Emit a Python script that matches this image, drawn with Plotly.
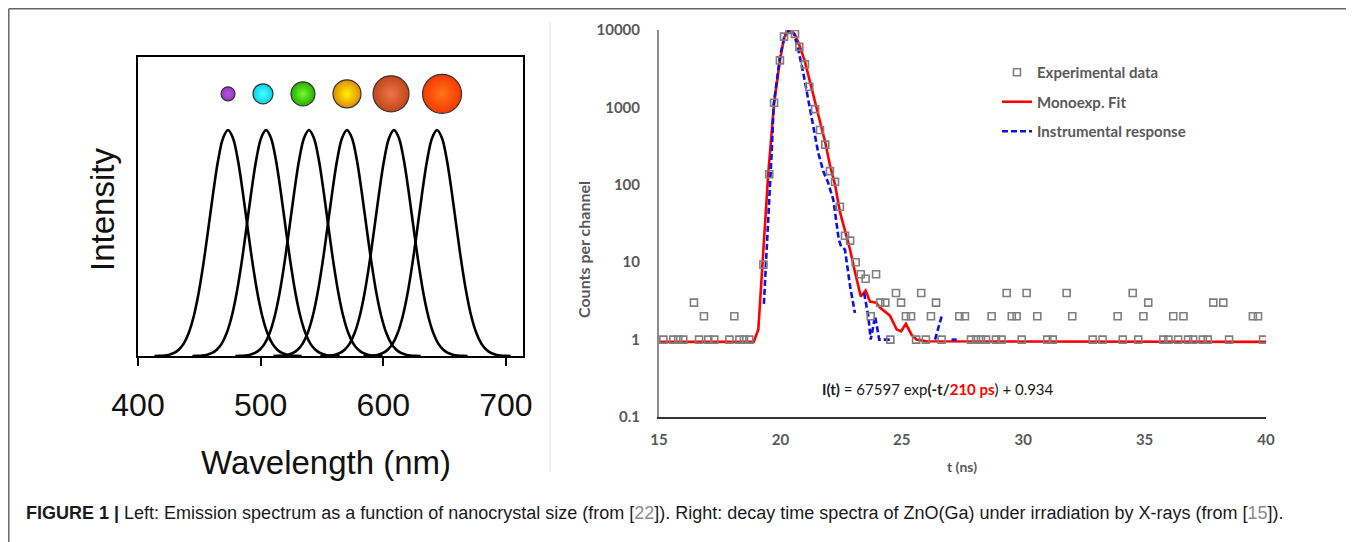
import plotly.graph_objects as go

W, H = 1354, 542
OFF = 8              # page body margin of the browser
FW, FH = W - OFF, H - OFF

# ---------------- Left panel data ----------------
peak_nm = [473.4, 504.4, 539.4, 570.4, 608.7, 643.8]
profile_offset = [-60, -56, -52, -48, -44, -40, -36, -32, -28, -24, -20, -16, -12, -8, -4, 0,
                  4, 8, 12, 16, 20, 24, 28, 32, 36, 40, 44, 48, 52, 56, 60]
profile_height = [0.0, 0.001, 0.0025, 0.006, 0.0135, 0.029, 0.056, 0.103, 0.175, 0.278, 0.411, 0.566, 0.726,
                  0.868, 0.965, 1.0,
                  0.965, 0.868, 0.726, 0.566, 0.411, 0.278, 0.175, 0.103, 0.056, 0.029, 0.0135, 0.006,
                  0.0025, 0.001, 0.0]
dot_nm = [473.4, 501.9, 534.5, 570.4, 606.3, 647.9]
dot_y = [1.16, 1.16, 1.16, 1.16, 1.16, 1.16]
dot_size = [14, 20, 24, 28, 36, 39]
dot_outer = ["#9636c4", "#00d6ea", "#26b000", "#e08a00", "#c24616", "#f83800"]
dot_inner = ["#b456e0", "#50fcff", "#78f830", "#fff400", "#ee7448", "#ff7418"]
left_ticks = [400, 500, 600, 700]

# ---------------- Right panel data ----------------
exp_t = [15.18, 15.59, 15.79, 16.0, 16.44, 16.65, 16.85, 17.03, 17.28, 17.9, 18.1, 18.31, 18.5, 18.72,
         19.3, 19.54, 19.74, 19.98, 20.15, 20.37, 20.6, 20.78, 21.01, 21.19, 21.43, 21.63, 21.85, 22.04,
         22.25, 22.45, 22.66, 22.87, 23.1, 23.31, 23.51, 23.72, 23.94, 24.11, 24.32, 24.53, 24.76, 24.97,
         25.17, 25.38, 25.59, 25.8, 25.99, 26.2, 26.41, 26.64,
         27.37, 27.6, 27.85, 28.06, 28.26, 28.47, 28.7, 28.88, 29.11, 29.32, 29.53, 29.73, 29.94, 30.14,
         30.58, 30.99, 31.22, 31.79, 32.02, 32.86, 33.27, 33.89, 34.1, 34.51, 34.74, 34.95, 35.15, 35.77,
         35.98, 36.18, 36.38, 36.6, 36.79, 37.0, 37.4, 37.6, 37.83, 38.24, 38.48, 39.46, 39.67, 39.88]
exp_v = [1, 1, 1, 1, 3, 1, 2, 1, 1, 1, 2, 1, 1, 1,
         9.3, 137, 1150, 4050, 8200, 10000, 8900, 6050, 3600, 1850, 950, 510, 330, 150,
         109, 52, 22, 19, 10, 7, 6.1, 2, 7, 3, 3, 1, 4, 3,
         2, 2, 1, 4, 1, 2, 3, 1,
         2, 2, 1, 1, 1, 1, 2, 1, 1, 4, 2, 2, 1, 4,
         2, 1, 1, 4, 2, 1, 1, 2, 1, 4, 1, 2, 3, 1,
         1, 2, 1, 2, 1, 1, 1, 1, 3, 3, 1, 2, 2, 1]

fit_t = [15.0, 18.9, 19.09, 19.3, 19.5, 19.74, 19.98, 20.15, 20.37, 20.6, 20.78, 21.01, 21.19, 21.43,
         21.63, 21.85, 22.04, 22.25, 22.45, 22.66, 22.87, 23.05, 23.2, 23.31, 23.51, 23.69, 23.95, 24.1,
         24.51, 24.79, 24.97, 25.17, 25.4, 25.6, 26.0, 40.0]
fit_v = [0.934, 0.934, 1.35, 13, 140, 1150, 4000, 8000, 9900, 8700, 6400, 3900, 2300, 1150,
         640, 350, 180, 100, 45, 26, 14.5, 8, 5, 3.6, 4.3, 3.1, 3.0, 2.6,
         2.04, 1.35, 1.28, 1.6, 1.16, 1.0, 0.95, 0.934]

irf_t = [19.32, 19.55, 19.65, 19.72, 19.98, 20.19, 20.37, 20.56, 20.74, 20.94, 21.15, 21.36, 21.56,
         21.77, 21.95, 22.18, 22.4, 22.5, 22.66, 22.87, 23.07, 23.2, 23.45, 23.62, 23.72, 23.9, 24.07,
         24.54, 24.7, 26.37, 26.64, 26.8, 27.05, 27.26]
irf_v = [2.9, 60, 300, 1050, 4500, 8700, 10000, 9000, 5500, 2800, 1250, 560, 257,
         148, 110, 64, 20, 16, 14.5, 4.9, 2.2, None, 4, 2, 1, 2, 1,
         1, None, 1, 2, None, 1, 1]

y_ticks = [0.1, 1, 10, 100, 1000, 10000]
y_ticktext = ["0.1", "1", "10", "100", "1000", "10000"]
x_ticks = [15, 20, 25, 30, 35, 40]


def px(x):
    return (x - OFF) / FW


def py(y):
    return 1 - (y - OFF) / FH


fig = go.Figure()

# Left: emission curves
for c in peak_nm:
    fig.add_trace(go.Scatter(
        x=[c + o for o in profile_offset], y=profile_height, mode="lines",
        line=dict(color="black", width=2.6, shape="spline"),
        xaxis="x", yaxis="y", showlegend=False, hoverinfo="skip"))

# Left: nanocrystal dots
fig.add_trace(go.Scatter(
    x=dot_nm, y=dot_y, mode="markers",
    marker=dict(size=dot_size, color=dot_outer, opacity=1,
                gradient=dict(type="radial", color=dot_inner),
                line=dict(color="#333333", width=1.2)),
    xaxis="x", yaxis="y", showlegend=False, hoverinfo="skip"))

# Right: fit and instrument response
fig.add_trace(go.Scatter(
    x=fit_t, y=fit_v, mode="lines", name="Monoexp. Fit",
    line=dict(color="#ff0000", width=2.6), xaxis="x2", yaxis="y2",
    legendrank=2, legendgroup="b"))
fig.add_trace(go.Scatter(
    x=irf_t, y=irf_v, mode="lines", name="Instrumental response",
    line=dict(color="#1010e0", width=2.6, dash="6px,3px"), connectgaps=False,
    xaxis="x2", yaxis="y2", legendrank=3, legendgroup="c"))
fig.add_trace(go.Scatter(
    x=exp_t, y=exp_v, mode="markers", name="Experimental data",
    marker=dict(symbol="square-open", size=7, color="#7f7f7f", line=dict(width=1.6)),
    xaxis="x2", yaxis="y2", legendrank=1, legendgroup="a"))

grey = "#595959"
rfont = "Lato"

fig.update_layout(
    template="none",
    width=FW, height=FH,
    margin=dict(l=0, r=0, t=0, b=0, autoexpand=False),
    paper_bgcolor="white", plot_bgcolor="white",
    xaxis=dict(domain=[px(138), px(523)], range=[400, 713.9], tickvals=left_ticks,
               ticks="outside", ticklen=8, tickwidth=1.5, tickcolor="black",
               showline=True, mirror=True, linecolor="black", linewidth=2,
               showgrid=False, zeroline=False, ticklabelstandoff=12, automargin=False,
               tickfont=dict(family="Liberation Sans", size=32, color="#111111"),
               anchor="y"),
    yaxis=dict(domain=[py(356), py(57)], range=[0, 1.323], showticklabels=False,
               ticks="", showline=True, mirror=True, linecolor="black", linewidth=2,
               showgrid=False, zeroline=False, anchor="x", automargin=False),
    xaxis2=dict(domain=[px(659), px(1266)], range=[15, 40], tickvals=x_ticks,
                ticks="", showline=True, linecolor="#333333", linewidth=2,
                showgrid=False, zeroline=False, ticklabelstandoff=8, automargin=False,
                tickfont=dict(family=rfont, size=15, color=grey, weight="bold"),
                anchor="y2"),
    yaxis2=dict(domain=[py(417), py(30)], type="log", range=[-1, 4], tickvals=y_ticks,
                ticktext=y_ticktext, ticks="", showline=True, linecolor="#8c8c8c",
                linewidth=2, showgrid=False, zeroline=False, ticklabelstandoff=14,
                automargin=False,
                tickfont=dict(family=rfont, size=15, color=grey, weight="bold"),
                anchor="x2"),
    legend=dict(x=px(997), y=py(56), xanchor="left", yanchor="top",
                bgcolor="rgba(0,0,0,0)", tracegroupgap=7, itemwidth=30,
                font=dict(family=rfont, size=15, color=grey, weight="bold")),
    showlegend=True,
)

annotations = [
    dict(text="Intensity", x=px(102), y=py(210), textangle=-90,
         font=dict(family="Liberation Sans", size=33, color="#111111")),
    dict(text="Wavelength (nm)", x=px(326), y=py(462),
         font=dict(family="Liberation Sans", size=33, color="#111111")),
    dict(text="Counts per channel", x=px(583), y=py(250), textangle=-90,
         font=dict(family=rfont, size=16, color=grey, weight="bold")),
    dict(text="t (ns)", x=px(962), y=py(466),
         font=dict(family=rfont, size=14, color=grey, weight="bold")),
    dict(text="<b>I(t)</b> = 67597 exp<b>(-t/</b><b><span style='color:#ff0000'>210 ps</span></b>) + 0.934",
         x=px(938), y=py(389),
         font=dict(family=rfont, size=15, color="#1a1a1a")),
    dict(text="<b>FIGURE 1 |</b> Left: Emission spectrum as a function of nanocrystal size (from [<span style='color:#8a8a8a'>22</span>]). "
              "Right: decay time spectra of ZnO(Ga) under irradiation by X-rays (from [<span style='color:#8a8a8a'>15</span>]).",
         x=px(24), y=py(513), xanchor="left",
         font=dict(family="Liberation Sans", size=18, color="#1a1a1a")),
]
for a in annotations:
    a.setdefault("xanchor", "center")
    a.update(xref="paper", yref="paper", showarrow=False, yanchor="middle")
fig.update_layout(annotations=annotations)

bx0, bx1, by0 = px(8.8), px(1352), py(8.8)
fig.update_layout(shapes=[
    dict(type="line", xref="paper", yref="paper", x0=bx0, x1=bx0, y0=0, y1=by0,
         line=dict(color="#666666", width=1.5)),
    dict(type="line", xref="paper", yref="paper", x0=bx0, x1=bx1, y0=by0, y1=by0,
         line=dict(color="#666666", width=1.5)),
    dict(type="line", xref="paper", yref="paper", x0=bx1, x1=bx1, y0=0, y1=by0,
         line=dict(color="#666666", width=1.5)),
    dict(type="line", xref="paper", yref="paper", x0=px(550), x1=px(550), y0=py(472), y1=py(22),
         line=dict(color="#ececec", width=1.5)),
])

fig.write_html("out.html")
